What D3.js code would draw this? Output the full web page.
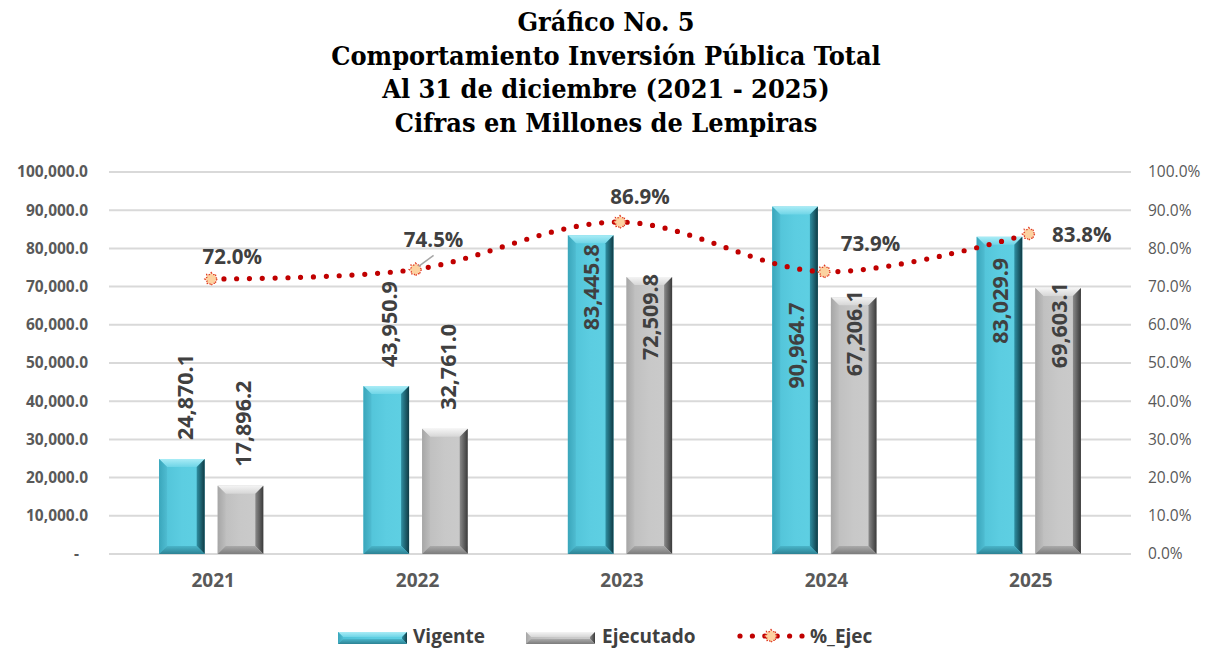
<!DOCTYPE html>
<html><head><meta charset="utf-8">
<script src="https://cdn.jsdelivr.net/npm/d3@7"></script>
<style>body{margin:0;background:#fff}svg{display:block}</style>
</head><body><svg id="c" width="1212" height="649"></svg>
<script>
// ---------- data ----------
const titleLines = ["Gráfico No. 5", "Comportamiento Inversión Pública Total", "Al 31 de diciembre (2021 - 2025)", "Cifras en Millones de Lempiras"];
const years = ["2021", "2022", "2023", "2024", "2025"];
const vigente = [24870.1, 43950.9, 83445.8, 90964.7, 83029.9];
const ejecutado = [17896.2, 32761.0, 72509.8, 67206.1, 69603.1];
const pctEjec = [0.720, 0.745, 0.869, 0.739, 0.838];
const leftTicks = [0, 10000, 20000, 30000, 40000, 50000, 60000, 70000, 80000, 90000, 100000];
const rightTicks = [0, 0.1, 0.2, 0.3, 0.4, 0.5, 0.6, 0.7, 0.8, 0.9, 1.0];
const seriesNames = ["Vigente", "Ejecutado", "%_Ejec"];

// ---------- layout ----------
const svg = d3.select("#c");
const plot = {l: 109, r: 1131, t: 172, b: 554};
const FONT = "'Open Sans', sans-serif";
const labelColor = "#404040", axisColor = "#595959", gridColor = "#d9d9d9";

const x0 = d3.scaleBand().domain(years).range([plot.l, plot.r]).paddingInner(0.49).paddingOuter(0.245);
const x1 = d3.scaleBand().domain(["v", "e"]).range([0, x0.bandwidth()]).paddingInner(0.222);
const y = d3.scaleLinear().domain([0, 100000]).range([plot.b, plot.t]);
const y2 = d3.scaleLinear().domain([0, 1]).range([plot.b, plot.t]);
const xc = d => x0(d) + x0.bandwidth() / 2;

// ---------- defs ----------
const defs = svg.append("defs");
function lg(id, stops, x2 = "0", y2v = "1") {
  const g = defs.append("linearGradient").attr("id", id).attr("x1", "0").attr("y1", "0").attr("x2", x2).attr("y2", y2v);
  stops.forEach(s => g.append("stop").attr("offset", s[0]).attr("stop-color", s[1]));
}
const pals = {
  v: {face: ["#4fc1d6", "#5ccde1", "#5fd0e3"], top: ["#a9ecf6", "#6fd5e7"], left: ["#3aa6bb", "#4fbcd1"], right: ["#2f8fa2", "#0f3a44"], bottom: ["#4ab5c9", "#2c8294"]},
  e: {face: ["#bcbcbc", "#c8c8c8", "#cbcbcb"], top: ["#f4f4f4", "#d6d6d6"], left: ["#a6a6a6", "#bdbdbd"], right: ["#8a8a8a", "#3a3a3a"], bottom: ["#aaaaaa", "#7c7c7c"]}
};
Object.entries(pals).forEach(([k, p]) => {
  lg(k + "face", [[0, p.face[0]], [0.5, p.face[1]], [1, p.face[2]]], "1", "0");
  lg(k + "top", [[0, p.top[0]], [1, p.top[1]]]);
  lg(k + "left", [[0, p.left[0]], [1, p.left[1]]], "1", "0");
  lg(k + "right", [[0, p.right[0]], [1, p.right[1]]], "1", "0");
  lg(k + "bottom", [[0, p.bottom[0]], [1, p.bottom[1]]]);
});

// ---------- title ----------
const tg = svg.append("g").attr("font-family", "'DejaVu Serif', serif").attr("font-weight", "bold")
  .attr("font-stretch", "condensed").attr("fill", "#000").attr("text-anchor", "middle");
const tNodes = titleLines.map((t, i) => tg.append("text").attr("x", 606).attr("y", 31 + i * 33.5).attr("font-size", 25).text(t));
// fit second line to the reference width
const w2 = tNodes[1].node().getComputedTextLength();
const fs = Math.max(18, Math.min(32, 25 * 550 / w2));
tNodes.forEach(n => n.attr("font-size", fs));

// ---------- grid ----------
svg.append("g").selectAll("line").data(leftTicks).join("line")
  .attr("x1", plot.l).attr("x2", plot.r).attr("y1", d => y(d)).attr("y2", d => y(d))
  .attr("stroke", gridColor).attr("stroke-width", 2);

// ---------- axes ----------
const ax = svg.append("g").attr("transform", `translate(${plot.l},0)`)
  .call(d3.axisLeft(y).tickValues(leftTicks).tickSize(0).tickPadding(21)
    .tickFormat(d => d === 0 ? "-" : d3.format(",.1f")(d)));
ax.select(".domain").remove();
ax.selectAll("text").attr("font-family", FONT).attr("font-weight", "bold").attr("font-size", 15.5).attr("fill", axisColor)
  .attr("dx", d => d === 0 ? -9 : 0);

const ay = svg.append("g").attr("transform", `translate(${plot.r},0)`)
  .call(d3.axisRight(y2).tickValues(rightTicks).tickSize(0).tickPadding(17).tickFormat(d3.format(".1%")));
ay.select(".domain").remove();
ay.selectAll("text").attr("font-family", FONT).attr("font-size", 15.5).attr("fill", axisColor);

const axx = svg.append("g").attr("transform", `translate(0,${plot.b})`)
  .call(d3.axisBottom(x0).tickSize(0).tickPadding(20));
axx.select(".domain").remove();
axx.selectAll("text").attr("font-family", FONT).attr("font-weight", "bold").attr("font-size", 19).attr("fill", axisColor)
  .attr("dx", 2);

// ---------- bars ----------
function bevelBar(g, x, yt, w, h, k, b = 8) {
  b = Math.min(b, h / 2, w / 2);
  const yb = yt + h;
  g.append("rect").attr("x", x).attr("y", yt).attr("width", w).attr("height", h).attr("fill", `url(#${k}face)`);
  const poly = (pts, f) => g.append("polygon").attr("points", pts.map(p => p.join(",")).join(" ")).attr("fill", `url(#${k}${f})`);
  poly([[x, yt], [x + w, yt], [x + w - b, yt + b], [x + b, yt + b]], "top");
  poly([[x, yt], [x + b, yt + b], [x + b, yb - b], [x, yb]], "left");
  poly([[x + w, yt], [x + w, yb], [x + w - b, yb - b], [x + w - b, yt + b]], "right");
  poly([[x, yb], [x + b, yb - b], [x + w - b, yb - b], [x + w, yb]], "bottom");
}
const barsG = svg.append("g");
const barData = [];
years.forEach((yr, i) => {
  [["v", vigente[i]], ["e", ejecutado[i]]].forEach(([k, val]) => {
    const bx = x0(yr) + x1(k), bw = x1.bandwidth();
    const yt = y(val);
    bevelBar(barsG, bx, yt, bw, plot.b - yt, k);
    barData.push({k, val, i, cx: bx + bw / 2, yt});
  });
});

// ---------- bar value labels (rotated) ----------
const insideNudge = {"2-v": 9, "2-e": -3, "3-v": 96, "3-e": -7, "4-v": 21, "4-e": -6};
const vl = svg.append("g").attr("font-family", FONT).attr("font-weight", "bold").attr("font-size", 21.5).attr("fill", labelColor);
barData.forEach(d => {
  const key = d.i + "-" + d.k;
  const txt = d3.format(",.1f")(d.val);
  const t = vl.append("text").attr("dy", "0.36em").text(txt);
  if (key in insideNudge) {
    t.attr("text-anchor", "end").attr("transform", `translate(${d.cx + 1},${d.yt + insideNudge[key]}) rotate(-90)`);
  } else {
    t.attr("text-anchor", "start").attr("transform", `translate(${d.cx + 3},${d.yt - 19}) rotate(-90)`);
  }
});

// ---------- line ----------
const red = "#c00000";
const pts = years.map((yr, i) => [xc(yr), y2(pctEjec[i])]);
svg.append("path").attr("d", d3.line().curve(d3.curveCatmullRom.alpha(0))(pts))
  .attr("fill", "none").attr("stroke", red).attr("stroke-width", 5.2)
  .attr("stroke-linecap", "round").attr("stroke-dasharray", "0 12.8");

function marker(g, cx, cy) {
  const n = 8, ro = 6.5, ri = 4.6;
  const p = d3.range(n * 2).map(j => {
    const a = j * Math.PI / n - Math.PI / 2;
    const r = j % 2 ? ri : ro;
    return [cx + r * Math.cos(a), cy + r * Math.sin(a)];
  });
  g.append("polygon").attr("points", p.map(q => q.join(",")).join(" "))
    .attr("fill", "#fcd2a0").attr("stroke", "#e03a24").attr("stroke-width", 1.2).attr("stroke-dasharray", "1.5 1.5");
}
const mg = svg.append("g");
pts.forEach(p => marker(mg, p[0], p[1]));

// percent labels
const pctOffset = [[21, -22], [18, -30], [20, -25], [46, -28], [53, 1]];
const pl = svg.append("g").attr("font-family", FONT).attr("font-weight", "bold").attr("font-size", 20.5).attr("fill", labelColor).attr("text-anchor", "middle");
pts.forEach((p, i) => {
  pl.append("text").attr("x", p[0] + pctOffset[i][0]).attr("y", p[1] + pctOffset[i][1]).attr("dy", "0.36em").text(d3.format(".1%")(pctEjec[i]));
});
svg.append("line").attr("x1", pts[1][0] + 3).attr("y1", pts[1][1] - 3).attr("x2", pts[1][0] + 18).attr("y2", pts[1][1] - 14)
  .attr("stroke", "#a6a6a6").attr("stroke-width", 1.5);

// ---------- legend ----------
const lgG = svg.append("g").attr("font-family", FONT).attr("font-weight", "bold").attr("font-size", 19).attr("fill", labelColor);
const legY = 636;
bevelBar(lgG, 338, 632, 69, 12, "v", 5);
lgG.append("text").attr("x", 413).attr("y", legY).attr("dy", "0.36em").text(seriesNames[0]);
bevelBar(lgG, 526, 632, 69, 12, "e", 5);
lgG.append("text").attr("x", 602).attr("y", legY).attr("dy", "0.36em").text(seriesNames[1]);
lgG.append("line").attr("x1", 740).attr("x2", 802).attr("y1", legY).attr("y2", legY)
  .attr("stroke", red).attr("stroke-width", 5.2).attr("stroke-linecap", "round").attr("stroke-dasharray", "0 12.4");
marker(lgG, 771, legY);
lgG.append("text").attr("x", 810).attr("y", legY).attr("dy", "0.36em").text(seriesNames[2]);
</script></body></html>
